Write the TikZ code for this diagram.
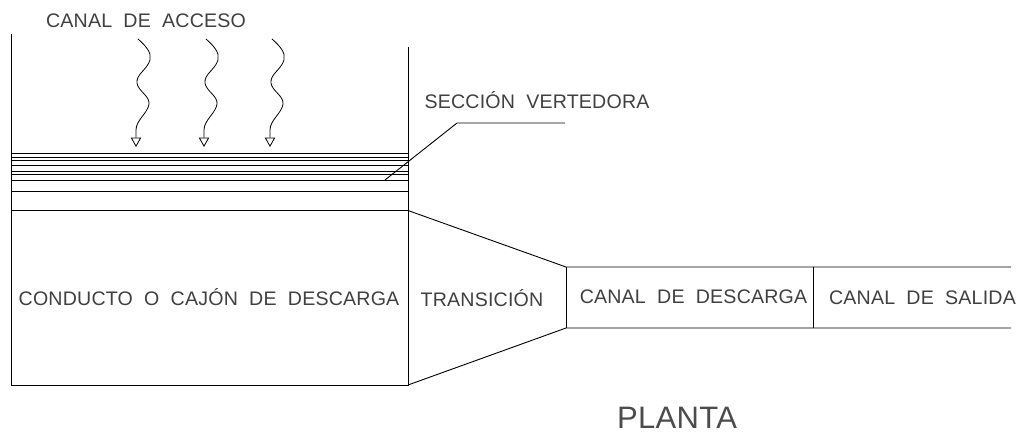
\documentclass[tikz,border=0pt]{standalone}
\usepackage{fontspec}
\newfontfamily\cadfont[LetterSpace=1,WordSpace=2]{Liberation Sans}
\usetikzlibrary{arrows.meta}

\begin{document}
\begin{tikzpicture}[
      x=1pt, y=-1pt,
      muro/.style={line width=0.9pt},
      flujo/.style={line width=0.8pt, -{Triangle[open,length=9.5pt,width=10.5pt]}},
      rotulo/.style={font=\cadfont\fontsize{19.6}{20}\selectfont, inner sep=0pt, text=black!75},
      titulo/.style={font=\cadfont\fontsize{31}{31}\selectfont, inner sep=0pt, text=black!70}
    ]
    \useasboundingbox (0,0) rectangle (1023,436);
    % Canal de acceso
    \coordinate (muroA) at (11,34);
    \coordinate (muroB) at (408,47);
    \coordinate (esqA) at (11,385);
    \coordinate (esqB) at (408,385);
    \draw[muro] (muroA) -- (esqA) -- (esqB) -- (muroB);
    \foreach \y/\n in {153.5/a,157/b,160.5/c,165.5/d,171/e,174.5/f,180/g,191/h,210.5/i} {
      \coordinate (izq\n) at (11,\y);
      \coordinate (der\n) at (408,\y);
      \draw[muro] (izq\n) -- (der\n);
    }
    % Flechas
    \foreach \d/\n in {0/a,68/b,134/c} {
      \coordinate (ini\n) at (138+\d,39);
      \coordinate (fin\n) at (136+\d,147);
      \draw[flujo] (ini\n) .. controls (146+\d,46) and (152+\d,53) .. (150+\d,60)
        .. controls (147+\d,70) and (136+\d,74) .. (137+\d,83)
        .. controls (138+\d,91) and (150+\d,96) .. (149+\d,104)
        .. controls (148+\d,113) and (136+\d,120) .. (136+\d,130)
        -- (fin\n);
    }
    % Transicion y canales
    \coordinate (transA) at (566,267);
    \coordinate (transB) at (566,328);
    \coordinate (salidaA) at (1011,267);
    \coordinate (salidaB) at (1011,328);
    \coordinate (corteA) at (813,267);
    \coordinate (corteB) at (813,328);
    \draw[muro] (deri) -- (transA) -- (salidaA);
    \draw[muro] (esqB) -- (transB) -- (salidaB);
    \draw[muro] (transA) -- (transB);
    \draw[muro] (corteA) -- (corteB);
    % Seccion vertedora
    \node[rotulo] (seccion) at (537,100.5) {SECCIÓN VERTEDORA};
    \coordinate (guiaA) at (385,180);
    \coordinate (guiaB) at (457,123);
    \coordinate (guiaC) at (565,123);
    \draw[muro] (guiaA) -- (guiaB) -- (guiaC);
    % Rotulos
    \node[rotulo] (acceso) at (146,21) {CANAL DE ACCESO};
    \node[rotulo] (conducto) at (209,297) {CONDUCTO O CAJÓN DE DESCARGA};
    \node[rotulo] (transicion) at (482,298) {TRANSICIÓN};
    \node[rotulo] (descarga) at (693.5,297) {CANAL DE DESCARGA};
    \node[rotulo] (salida) at (922.5,298) {CANAL DE SALIDA};
    \node[titulo] (planta) at (677,418) {PLANTA};
  \end{tikzpicture}
\end{document}
